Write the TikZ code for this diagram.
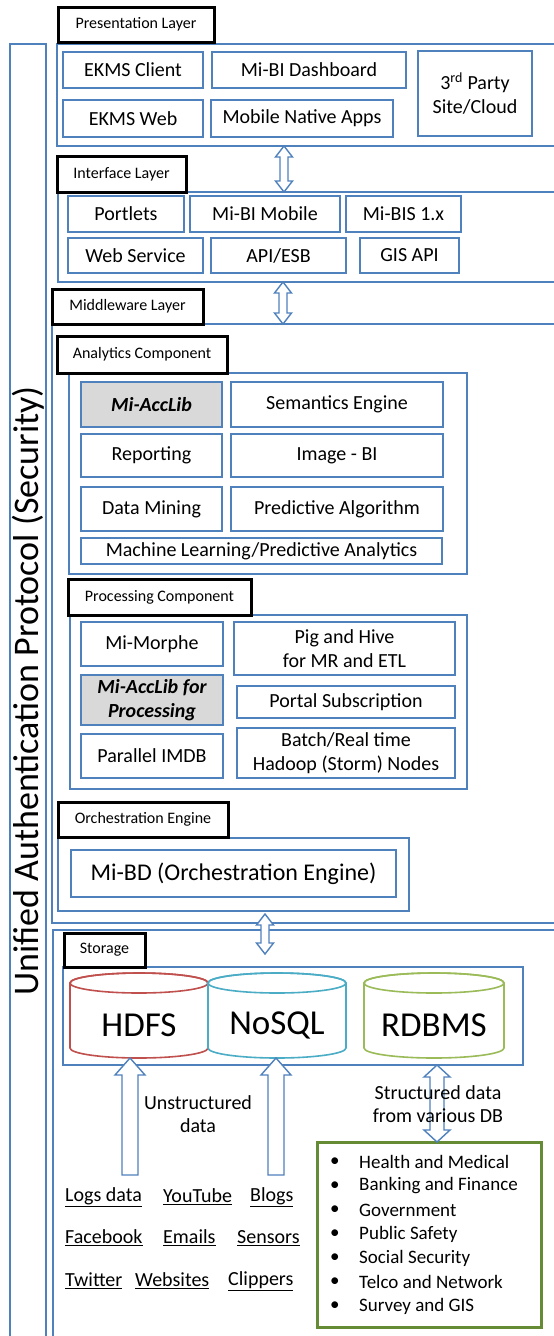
\documentclass[tikz,border=0pt]{standalone}
\usepackage{fontspec}
\setmainfont{Carlito}
\usetikzlibrary{calc}
\definecolor{boxblue}{RGB}{79,129,189}
\definecolor{hdfsred}{RGB}{192,80,77}
\definecolor{nosqlcyan}{RGB}{75,172,198}
\definecolor{rdbgreen}{RGB}{155,187,89}
\definecolor{listgreen}{RGB}{101,139,52}
\definecolor{accgray}{RGB}{217,217,217}
\tikzset{
 shp/.style={inner sep=0pt, outer sep=0pt, align=center},
 box/.style={shp, draw=boxblue, line width=1.6pt, fill=white, font=\fontsize{20}{24}\selectfont},
 cont/.style={shp, draw=boxblue, line width=1.6pt, fill=white},
 lbl/.style={shp, draw=black, line width=3pt, fill=white, font=\fontsize{16}{18}\selectfont},
 accbox/.style={box, fill=accgray, font=\fontsize{20}{24}\selectfont\bfseries\itshape},
 barrow/.style={draw=boxblue, line width=1.4pt, fill=white, line join=miter},
 src/.style={anchor=west, inner sep=0pt, font=\fontsize{20}{24}\selectfont},
 plaintext/.style={shp, font=\fontsize{20}{23}\selectfont},
 listtext/.style={anchor=west, inner sep=0pt, font=\fontsize{19}{22}\selectfont},
 cylline/.style={line width=1.6pt, fill=white},
}
\newcommand{\bx}[7][]{\node[#1,minimum width={(#5)-(#3)},minimum height={(#6)-(#4)}] (#2) at ({((#3)+(#5))/2},{((#4)+(#6))/2}) {#7};}
\newcommand{\blkdbl}[5]{\draw[barrow] let \p1=#1, \p2=#2 in (\x1,\y1) -- (\x1+#3pt,\y1-#5pt) -- (\x1+#4pt,\y1-#5pt) -- (\x1+#4pt,\y2+#5pt) -- (\x1+#3pt,\y2+#5pt) -- (\x1,\y2) -- (\x1-#3pt,\y2+#5pt) -- (\x1-#4pt,\y2+#5pt) -- (\x1-#4pt,\y1-#5pt) -- (\x1-#3pt,\y1-#5pt) -- cycle;}
\newcommand{\blkup}[5]{\draw[barrow] let \p1=#1, \p2=#2 in (\x1,\y1) -- (\x1+#3pt,\y1-#5pt) -- (\x1+#4pt,\y1-#5pt) -- (\x1+#4pt,\y2) -- (\x1-#4pt,\y2) -- (\x1-#4pt,\y1-#5pt) -- (\x1-#3pt,\y1-#5pt) -- cycle;}
% cylinder: color, x1, ytop, x2, ybot, rx
\newcommand{\cyl}[6]{%
 \filldraw[cylline, draw=#1] (#2,{(#3)+10}) -- (#2,{(#5)-10}) arc[start angle=180, end angle=360, x radius=#6pt, y radius=10pt] -- (#4,{(#3)+10}) arc[start angle=0, end angle=180, x radius=#6pt, y radius=10pt] -- cycle;
 \draw[line width=1.6pt, draw=#1] ({((#2)+(#4))/2},{(#3)+10}) ellipse[x radius=#6pt, y radius=10pt];}
\begin{document}
\begin{tikzpicture}[x=1pt,y=-1pt]
\useasboundingbox (0,0) rectangle (554,1336);
% security band
\bx[cont]{band}{10}{44}{46}{1360}{}
\node[rotate=90, inner sep=0pt, font=\fontsize{36}{40}\selectfont] (sec) at (28,691) {Unified Authentication Protocol (Security)};
% containers
\bx[cont]{mw}{52}{324}{580}{923}{}
\bx[cont]{stout}{53}{930}{580}{1360}{}
\bx[cont]{pres}{57}{44}{580}{146}{}
\bx[cont]{intf}{58}{192}{580}{282}{}
\bx[cont]{anac}{69}{373}{467}{574}{}
\bx[cont]{proc}{70}{615}{467}{789}{}
\bx[cont]{orch}{58}{838}{409}{911}{}
\bx[cont]{stin}{63}{967}{523}{1065}{}
% labels
\bx[lbl]{presl}{58}{7}{214}{42}{Presentation Layer}
\bx[lbl]{intfl}{57}{156}{186}{192}{Interface Layer}
\bx[lbl]{mwl}{52}{289}{203}{324}{Middleware Layer}
\bx[lbl]{anal}{57}{336}{227}{373}{Analytics Component}
\bx[lbl]{procl}{68}{579}{251}{615}{Processing Component}
\bx[lbl]{orchl}{58}{802}{228}{837}{Orchestration Engine}
\bx[lbl]{storl}{64}{933}{145}{967}{Storage}
% presentation
\bx[box]{ekmsc}{63}{52}{203}{88}{EKMS Client}
\bx[box]{mibid}{212}{52}{406}{88}{Mi-BI Dashboard}
\bx[box]{ekmsw}{63}{100}{203}{137}{EKMS Web}
\bx[box]{mobile}{211}{100}{393}{137}{Mobile Native Apps}
\bx[box]{third}{418}{51}{532}{136}{3\textsuperscript{rd} Party\\Site/Cloud}
% interface
\bx[box]{portlets}{68}{196}{184}{232}{Portlets}
\bx[box]{mibim}{190}{196}{340}{232}{Mi-BI Mobile}
\bx[box]{mibis}{346}{196}{461}{232}{Mi-BIS 1.x}
\bx[box]{websvc}{68}{238}{203}{273}{Web Service}
\bx[box]{apiesb}{211}{238}{346}{273}{API/ESB}
\bx[box]{gisapi}{360}{238}{459}{273}{GIS API}
% analytics
\bx[accbox]{acclib}{81}{382}{222}{427}{Mi-AccLib}
\bx[box]{semeng}{231}{382}{443}{427}{Semantics Engine}
\bx[box]{report}{81}{434}{222}{477}{Reporting}
\bx[box]{imgbi}{231}{434}{443}{477}{Image - BI}
\bx[box]{dmining}{81}{487}{222}{531}{Data Mining}
\bx[box]{predalg}{231}{487}{443}{531}{Predictive Algorithm}
\bx[box]{mlearn}{81}{538}{442}{564}{Machine Learning/Predictive Analytics}
% processing
\bx[box]{morphe}{81}{622}{223}{666}{Mi-Morphe}
\bx[box]{pighive}{234}{622}{455}{675}{Pig and Hive\\for MR and ETL}
\bx[accbox]{acclibp}{81}{675}{223}{725}{Mi-AccLib for\\Processing}
\bx[box]{portal}{237}{686}{455}{718}{Portal Subscription}
\bx[box]{pimdb}{81}{734}{223}{778}{Parallel IMDB}
\bx[box]{batch}{237}{728}{455}{778}{Batch/Real time\\Hadoop (Storm) Nodes}
% orchestration
\bx[box, font=\fontsize{24}{28}\selectfont]{mibd}{71}{850}{396}{897}{Mi-BD (Orchestration Engine)}
% storage cylinders
\cyl{hdfsred}{70}{973}{208}{1058}{69}
\cyl{nosqlcyan}{208}{973}{346}{1058}{69}
\cyl{rdbgreen}{364}{973}{504}{1058}{70}
\bx[shp, font=\fontsize{35}{40}\selectfont]{hdfs}{70}{993}{208}{1058}{HDFS}
\bx[shp, font=\fontsize{35}{40}\selectfont]{nosql}{208}{993}{346}{1058}{NoSQL}
\bx[shp, font=\fontsize{35}{40}\selectfont]{rdbms}{364}{993}{504}{1058}{RDBMS}
% structured data list
\bx[shp, draw=listgreen, line width=3pt, fill=white]{grn}{317}{1142}{541}{1327}{}
\foreach \t [count=\i] in {Health and Medical, Banking and Finance, Government, Public Safety, Social Security, Telco and Network, Survey and GIS} {
  \node[listtext] (bul\i) at (330,{1162+(\i-1)*24}) {\textbullet};
  \node[listtext] (item\i) at (359,{1162+(\i-1)*24}) {\t};
}
% block arrows
\coordinate (ax1) at (284,0);
\coordinate (ax2) at (283,0);
\coordinate (ax3) at (265,0);
\coordinate (ax4) at (130,0);
\coordinate (ax5) at (276,0);
\coordinate (ax6) at (437,0);
\blkdbl{(pres.south -| ax1)}{(intf.north -| ax1)}{8.5}{4}{11}
\blkdbl{(intf.south -| ax2)}{(mw.north -| ax2)}{8.5}{4}{11}
\coordinate (a3t) at ($(orch.south -| ax3)+(0,3)$);
\coordinate (a3b) at ($(stin.north -| ax3)+(0,-13)$);
\blkdbl{(a3t)}{(a3b)}{8.5}{4}{11}
\coordinate (src4) at (130,1175);
\coordinate (src5) at (276,1175);
\blkup{(hdfs.south -| ax4)}{(src4)}{15}{8}{17}
\blkup{(nosql.south -| ax5)}{(src5)}{15}{8}{17}
\blkdbl{(stin.south -| ax6)}{(grn.north -| ax6)}{13}{7}{12}
% texts
\node[plaintext] (unstr) at (198,1114) {Unstructured\\data};
\node[plaintext] (str) at (438,1104) {Structured data\\from various DB};
\node[src] (logs) at (65,1197) {\underline{Logs data}};
\node[src] (youtube) at (163,1197) {\underline{YouTube}};
\node[src] (blogs) at (250,1197) {\underline{Blogs}};
\node[src] (facebook) at (65,1238) {\underline{Facebook}};
\node[src] (emails) at (163,1238) {\underline{Emails}};
\node[src] (sensors) at (237,1238) {\underline{Sensors}};
\node[src] (twitter) at (65,1281) {\underline{Twitter}};
\node[src] (websites) at (135,1281) {\underline{Websites}};
\node[src] (clippers) at (228,1281) {\underline{Clippers}};
\end{tikzpicture}
\end{document}
